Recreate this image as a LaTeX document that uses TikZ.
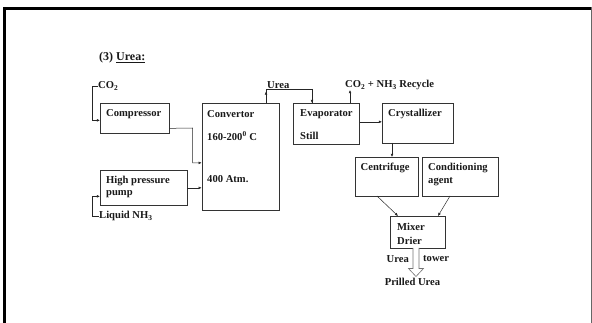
\documentclass[tikz,border=0pt]{standalone}
\usepackage{fontspec}
\setmainfont{Liberation Serif}
\usetikzlibrary{arrows.meta}
\begin{document}
\begin{tikzpicture}[x=1pt,y=-1pt,
  box/.style={draw=black!80, line width=0.7pt, rectangle, inner sep=0pt, anchor=north west},
  lbl/.style={inner sep=0pt, font=\fontsize{10.6}{12}\selectfont\bfseries, text=black!90},
  link/.style={line width=0.5pt, draw=black!85},
  arr/.style={link, -{Latex[length=3.2pt,width=2.8pt]}}]
\useasboundingbox (0,0) rectangle (592,323);
% slide frame
\fill[black] (2.7,7) rectangle (592,9.6);
\fill[black] (2.7,7) rectangle (6,323);
\draw[black!60, line width=0.6pt] (591,7) -- (591,323);

% title
\node[lbl, anchor=west, font=\fontsize{12}{14}\selectfont\bfseries] (title) at (99,58) {(3) \underline{Urea:}};

% unit boxes
\node[box, minimum width=69pt, minimum height=30pt] (comp) at (100,103) {};
\node[box, minimum width=86.7pt, minimum height=35pt] (hpp) at (100,170) {};
\node[box, minimum width=77.3pt, minimum height=107pt] (conv) at (201.7,103) {};
\node[box, minimum width=66pt, minimum height=41pt] (evap) at (293,103) {};
\node[box, minimum width=71pt, minimum height=40pt] (cryst) at (382,103) {};
\node[box, minimum width=63pt, minimum height=39pt] (cent) at (355,157) {};
\node[box, minimum width=76pt, minimum height=39pt] (cond) at (422,157) {};
\node[box, minimum width=55pt, minimum height=32pt] (mix) at (390,216) {};

% box texts
\node[lbl, anchor=west] (tcomp) at (106,114.5) {Compressor};
\node[lbl, anchor=west] (thp1) at (106,181) {High pressure};
\node[lbl, anchor=west] (thp2) at (106,194.5) {pump};
\node[lbl, anchor=west] (tconv1) at (207,114.5) {Convertor};
\node[lbl, anchor=west] (tconv2) at (207,136) {160-200\textsuperscript{0} C};
\node[lbl, anchor=west] (tconv3) at (207,179.5) {400 Atm.};
\node[lbl, anchor=west] (tevap1) at (300,114) {Evaporator};
\node[lbl, anchor=west] (tevap2) at (300,136) {Still};
\node[lbl, anchor=west] (tcryst) at (388,114) {Crystallizer};
\node[lbl, anchor=west] (tcent) at (360.5,167.5) {Centrifuge};
\node[lbl, anchor=west] (tcond1) at (428,167.5) {Conditioning};
\node[lbl, anchor=west] (tcond2) at (428,182) {agent};
\node[lbl, anchor=west] (tmix1) at (397,226.5) {Mixer};
\node[lbl, anchor=west] (tmix2) at (397,240.5) {Drier};

% stream labels
\node[lbl, anchor=west] (co2) at (98,86) {CO\textsubscript{2}};
\node[lbl, anchor=west] (nh3) at (99,216) {Liquid NH\textsubscript{3}};
\node[lbl, anchor=west] (urea) at (267,85) {Urea};
\node[lbl, anchor=west] (recyc) at (345,85) {CO\textsubscript{2} + NH\textsubscript{3} Recycle};
\node[lbl, anchor=east] (ureat) at (409,259) {Urea};
\node[lbl, anchor=west] (tower) at (423,259) {tower};
\node[lbl] (prilled) at (412.5,282) {Prilled Urea};

% connectors
\coordinate (cA) at (92,86);
\coordinate (cB) at (92,216);
\draw[arr] (co2.west) -- (cA) |- ([yshift=-2pt]comp.west);
\draw[arr] (nh3.west) -- (cB) |- ([yshift=-8.5pt]hpp.west);
\coordinate (cC) at (192.7,128);
\draw[arr] ([yshift=-10pt]comp.east) -- (cC) |- ([yshift=-6pt]conv.west);
\draw[arr] (hpp.east) -- (hpp.east -| conv.west);
\coordinate (cU1) at (266,103);
\coordinate (cU2) at (266,89);
\coordinate (cU3) at (312,103);
\draw[link] (cU1) -- (cU2) -| (cU3);
\draw[arr] (cU1) -- (266,91.5);
\draw[arr] (cU2 -| cU3) -- (cU3);
\coordinate (cR) at (350,103);
\draw[arr] (cR) -- (350,90);
\draw[arr] ([yshift=2pt]evap.east) -- ([yshift=2pt]evap.east -| cryst.west);
\coordinate (cX) at (392,143);
\draw[arr] (cX) -- (cX |- cent.north);
\coordinate (cD1) at (377,196);
\coordinate (cD2) at (398,216);
\coordinate (cD3) at (450,196);
\coordinate (cD4) at (438,216);
\draw[arr] (cD1) -- (cD2);
\draw[arr] (cD3) -- (cD4);

% hollow discharge arrow to the prilling tower
\draw[black!55, line width=0.6pt, fill=white]
  (413,248) -- (413,268.5) -- (408.5,268.5) -- (416,276.5) -- (423.5,268.5)
  -- (419,268.5) -- (419,248);
\end{tikzpicture}
\end{document}
